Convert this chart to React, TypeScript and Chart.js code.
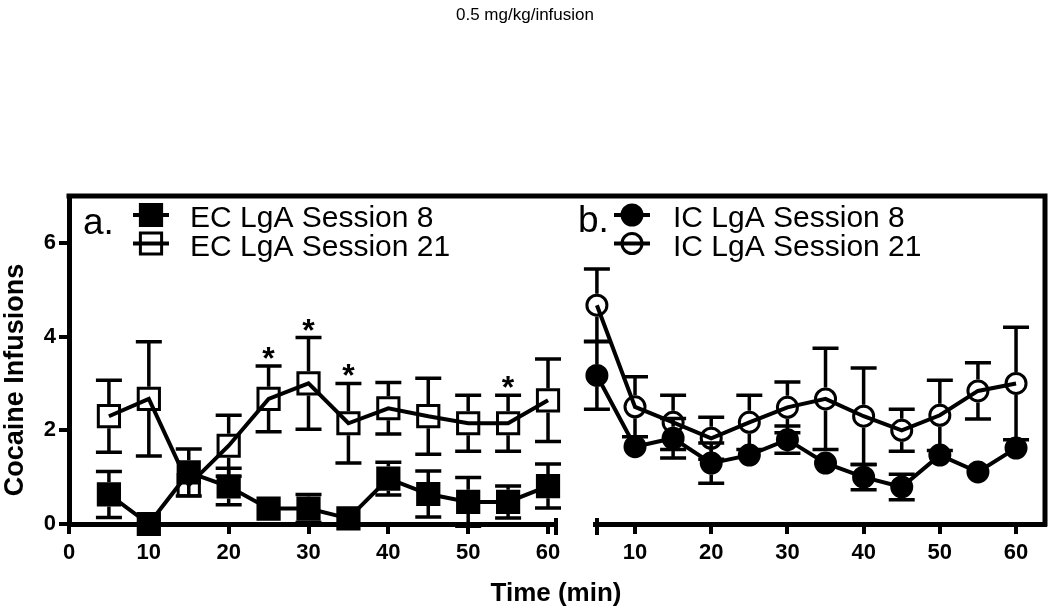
import React, { useEffect, useRef } from "react";
import { Chart, registerables } from "chart.js";

Chart.register(...registerables);

const FONT = '"Liberation Sans", Arial, Helvetica, sans-serif';

const chartTitle = "0.5 mg/kg/infusion";
const yAxisTitle = "Cocaine Infusions";
const xAxisTitle = "Time (min)";
const panelLabels = ["a.", "b."];
const seriesLabels = ["EC LgA Session 8", "EC LgA Session 21", "IC LgA Session 8", "IC LgA Session 21"];

const times = [5, 10, 15, 20, 25, 30, 35, 40, 45, 50, 55, 60];
const ec8 = [0.63, 0, 1.1, 0.8, 0.33, 0.33, 0.12, 0.97, 0.64, 0.47, 0.47, 0.81];
const ec8Err = [0.49, 0, 0.5, 0.39, 0, 0.3, 0, 0.35, 0.49, 0.52, 0.34, 0.47];
const ec21 = [2.3, 2.67, 0.83, 1.67, 2.67, 3.0, 2.15, 2.47, 2.3, 2.15, 2.15, 2.64];
const ec21Err = [0.77, 1.22, 0.25, 0.65, 0.7, 0.98, 0.85, 0.55, 0.81, 0.6, 0.6, 0.88];
const ic8 = [3.17, 1.65, 1.83, 1.3, 1.47, 1.8, 1.3, 1.0, 0.79, 1.47, 1.11, 1.62];
const ic8Err = [0.72, 0.15, 0.42, 0.43, 0.1, 0.29, 0.1, 0.27, 0.27, 0.1, 0.1, 0.13];
const ic21 = [4.67, 2.5, 2.17, 1.83, 2.17, 2.49, 2.67, 2.3, 2.0, 2.32, 2.84, 3.0];
const ic21Err = [0.77, 0.64, 0.58, 0.45, 0.58, 0.54, 1.08, 1.03, 0.45, 0.75, 0.6, 1.2];
const starTimes = [25, 30, 35, 55];

const yTicks = [0, 2, 4, 6];
const yRange = [0, 7];
const xTicksA = [0, 10, 20, 30, 40, 50, 60];
const xRangeA = [0, 61];
const xTicksB = [10, 20, 30, 40, 50, 60];
const xRangeB = [4.75, 63.8];

const pts = (ys: number[]) => times.map((t, i) => ({ x: t, y: ys[i] }));

const tickFont = { family: FONT, size: 22, weight: "bold" as const };

function drawMarker(ctx: CanvasRenderingContext2D, style: string, x: number, y: number, r: number, bw: number, filled: boolean) {
  ctx.beginPath();
  if (style === "rect") {
    const s = r * Math.SQRT1_2;
    ctx.rect(x - s, y - s, 2 * s, 2 * s);
  } else {
    ctx.arc(x, y, r, 0, Math.PI * 2);
  }
  if (filled) {
    ctx.fillStyle = "#000";
    ctx.fill();
  }
  ctx.lineWidth = bw;
  ctx.strokeStyle = "#000";
  ctx.stroke();
}

const decorPlugin = {
  id: "decor",
  afterDatasetsDraw(chart: any) {
    const ctx: CanvasRenderingContext2D = chart.ctx;
    const ys = chart.scales.y;
    chart.data.datasets.forEach((ds: any) => {
      const xs = chart.scales[ds.xAxisID];
      const r = ds.pointRadius;
      const bw = ds.pointBorderWidth;
      const half = (ds.pointStyle === "rect" ? r * Math.SQRT1_2 : r) + bw / 2;
      ctx.save();
      ctx.strokeStyle = "#000";
      ctx.lineWidth = 3.5;
      ctx.lineCap = "butt";
      ds.data.forEach((p: any, i: number) => {
        const e = ds.errors[i];
        if (!e) return;
        const px = xs.getPixelForValue(p.x);
        const pc = ys.getPixelForValue(p.y);
        const pt = ys.getPixelForValue(p.y + e);
        const pb = ys.getPixelForValue(p.y - e);
        const cap = 13;
        if (pc - pt > half) {
          ctx.beginPath();
          ctx.moveTo(px, pt);
          ctx.lineTo(px, pc - half);
          ctx.moveTo(px - cap, pt);
          ctx.lineTo(px + cap, pt);
          ctx.stroke();
        }
        if (pb - pc > half) {
          ctx.beginPath();
          ctx.moveTo(px, pc + half);
          ctx.lineTo(px, pb);
          ctx.moveTo(px - cap, pb);
          ctx.lineTo(px + cap, pb);
          ctx.stroke();
        }
      });
      if (ds.stars) {
        ctx.fillStyle = "#000";
        ctx.font = `bold 32px ${FONT}`;
        ctx.textAlign = "center";
        ctx.textBaseline = "alphabetic";
        const m = ctx.measureText("*");
        const asc = m.actualBoundingBoxAscent;
        const desc = m.actualBoundingBoxDescent;
        ds.stars.forEach((t: number) => {
          const i = ds.data.findIndex((p: any) => p.x === t);
          if (i < 0) return;
          const p = ds.data[i];
          const px = xs.getPixelForValue(p.x);
          const top = ys.getPixelForValue(p.y + ds.errors[i]);
          const center = top - 13;
          const base = center - (desc - asc) / 2;
          ctx.fillText("*", px, base);
        });
      }
      ctx.restore();
    });
  },
  afterDraw(chart: any) {
    const ctx: CanvasRenderingContext2D = chart.ctx;
    const a = chart.chartArea;
    ctx.save();
    ctx.strokeStyle = "#000";
    ctx.lineWidth = 5;
    ctx.lineCap = "square";
    ctx.beginPath();
    ctx.moveTo(a.left, a.top);
    ctx.lineTo(a.right, a.top);
    ctx.lineTo(a.right, a.bottom);
    ctx.stroke();
    ctx.lineWidth = 4;
    ctx.lineCap = "butt";
    const e1 = chart.scales.x1.right;
    const e2 = chart.scales.x2.left;
    ctx.beginPath();
    ctx.moveTo(e1, a.bottom - 6);
    ctx.lineTo(e1, a.bottom + 11);
    ctx.moveTo(e2 + 2, a.bottom - 6);
    ctx.lineTo(e2 + 2, a.bottom + 11);
    ctx.stroke();

    ctx.fillStyle = "#000";
    ctx.font = `17px ${FONT}`;
    ctx.textAlign = "center";
    ctx.textBaseline = "middle";
    ctx.fillText(chartTitle, 525, 15);
    ctx.font = `bold 26px ${FONT}`;
    ctx.fillText(xAxisTitle, 556, 594);
    ctx.save();
    ctx.translate(16, 380);
    ctx.rotate(-Math.PI / 2);
    ctx.font = `bold 27px ${FONT}`;
    ctx.fillText(yAxisTitle, 0, 0);
    ctx.restore();

    const legends = [
      { label: panelLabels[0], lx: 83, ly: 234, mx: 151, tx: 190, items: [0, 1] },
      { label: panelLabels[1], lx: 578, ly: 232, mx: 632, tx: 673, items: [2, 3] },
    ];
    const rowsY = [215, 243.5];
    const rowsBase = [227, 256];
    legends.forEach((lg) => {
      ctx.font = `37px ${FONT}`;
      ctx.textAlign = "left";
      ctx.textBaseline = "alphabetic";
      ctx.fillStyle = "#000";
      ctx.fillText(lg.label, lg.lx, lg.ly);
      lg.items.forEach((di, k) => {
        const ds = chart.data.datasets[di];
        const my = rowsY[k];
        ctx.lineWidth = 4;
        ctx.strokeStyle = "#000";
        ctx.beginPath();
        ctx.moveTo(lg.mx - 18, my);
        ctx.lineTo(lg.mx + 18, my);
        ctx.stroke();
        drawMarker(ctx, ds.pointStyle, lg.mx, my, ds.pointRadius, ds.pointBorderWidth, ds.filled);
        ctx.font = `30px ${FONT}`;
        ctx.fillStyle = "#000";
        ctx.fillText(ds.label, lg.tx, rowsBase[k]);
      });
    });
    ctx.restore();
  },
};

function makeDataset(label: string, ys: number[], errs: number[], axis: string, style: string, filled: boolean, extra: any = {}) {
  const r = style === "rect" ? 15 : 10;
  return {
    label,
    data: pts(ys),
    errors: errs,
    filled,
    xAxisID: axis,
    yAxisID: "y",
    borderColor: "#000",
    borderWidth: 4,
    tension: 0,
    fill: false,
    pointStyle: style,
    pointRadius: r,
    pointHoverRadius: r,
    pointBorderWidth: 3,
    pointBorderColor: "#000",
    pointBackgroundColor: filled ? "#000" : "rgba(0,0,0,0)",
    clip: false,
    ...extra,
  };
}

const xScale = (range: number[], ticks: number[], weight: number) => ({
  type: "linear" as const,
  position: "bottom" as const,
  stack: "row",
  stackWeight: weight,
  min: range[0],
  max: range[1],
  afterBuildTicks: (s: any) => {
    s.ticks = ticks.map((v) => ({ value: v }));
  },
  afterFit: (s: any) => {
    s.height = 85;
    s.paddingLeft = 0;
    s.paddingRight = 0;
  },
  border: { display: true, color: "#000", width: 5 },
  grid: { display: true, drawOnChartArea: false, drawTicks: true, tickLength: 10, lineWidth: 4, color: "#000" },
  ticks: { autoSkip: false, maxRotation: 0, color: "#000", font: tickFont, padding: 6 },
});

export default function App() {
  const ref = useRef<HTMLCanvasElement | null>(null);
  useEffect(() => {
    if (!ref.current) return;
    const chart = new Chart(ref.current, {
      type: "line",
      data: {
        datasets: [
          makeDataset(seriesLabels[0], ec8, ec8Err, "x1", "rect", true),
          makeDataset(seriesLabels[1], ec21, ec21Err, "x1", "rect", false, { stars: starTimes }),
          makeDataset(seriesLabels[2], ic8, ic8Err, "x2", "circle", true),
          makeDataset(seriesLabels[3], ic21, ic21Err, "x2", "circle", false),
        ] as any,
      },
      options: {
        animation: false,
        responsive: false,
        devicePixelRatio: 1,
        events: [],
        layout: { autoPadding: false, padding: { top: 196, left: 0, right: 5, bottom: 0 } },
        plugins: { legend: { display: false }, tooltip: { enabled: false }, title: { display: false } },
        scales: {
          y: {
            type: "linear",
            position: "left",
            min: yRange[0],
            max: yRange[1],
            afterBuildTicks: (s: any) => {
              s.ticks = yTicks.map((v) => ({ value: v }));
            },
            afterFit: (s: any) => {
              s.width = 69;
              s.paddingTop = 0;
              s.paddingBottom = 0;
            },
            border: { display: true, color: "#000", width: 5 },
            grid: { display: true, drawOnChartArea: false, drawTicks: true, tickLength: 10, lineWidth: 4, color: "#000" },
            ticks: { color: "#000", font: tickFont, padding: 3 },
          },
          x1: xScale(xRangeA, xTicksA, 487),
          xg: {
            type: "linear",
            position: "bottom",
            stack: "row",
            stackWeight: 39,
            display: false,
            afterFit: (s: any) => {
              s.height = 85;
              s.paddingLeft = 0;
              s.paddingRight = 0;
            },
          },
          x2: xScale(xRangeB, xTicksB, 450),
        } as any,
      },
      plugins: [decorPlugin],
    });
    return () => chart.destroy();
  }, []);
  return (
    <div style={{ position: "absolute", left: 0, top: 0, width: 1050, height: 609, background: "#fff" }}>
      <canvas ref={ref} width={1050} height={609} style={{ width: 1050, height: 609, display: "block" }} />
    </div>
  );
}
